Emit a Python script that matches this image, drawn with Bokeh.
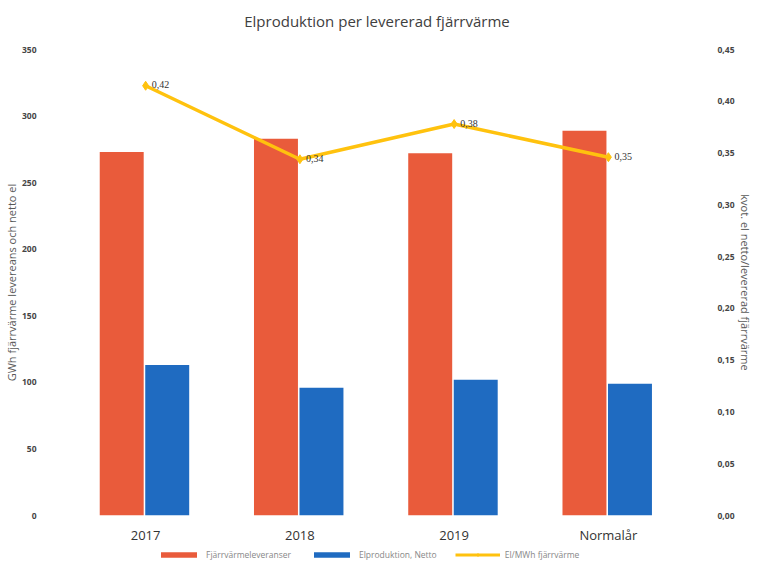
from bokeh.plotting import figure
from bokeh.layouts import column
from bokeh.models import (ColumnDataSource, FactorRange, Range1d, LinearAxis, FixedTicker,
                          CustomJSTickFormatter, Legend, LegendItem)
from bokeh.transform import dodge
from bokeh.core.properties import value
from bokeh.embed import file_html
from bokeh.resources import INLINE

categories = ["2017", "2018", "2019", "Normalår"]
fjarrvarme = [273, 283, 272, 289]
elproduktion = [113, 96, 102, 99]
kvot = [0.415, 0.344, 0.378, 0.346]
kvot_labels = ["0,42", "0,34", "0,38", "0,35"]
left_ticks = [0, 50, 100, 150, 200, 250, 300, 350]
right_ticks = [0.0, 0.05, 0.10, 0.15, 0.20, 0.25, 0.30, 0.35, 0.40, 0.45]
legend_labels = ["Fjärrvärmeleveranser", "Elproduktion, Netto", "El/MWh fjärrvärme"]

ORANGE = "#E95B3B"
BLUE = "#1F6BC1"
YELLOW = "#FFC20E"

src = ColumnDataSource(dict(cat=categories, f=fjarrvarme, e=elproduktion,
                            k=kvot, lab=kvot_labels))

p = figure(width=761, height=546, x_range=FactorRange(factors=categories, range_padding=0),
           y_range=Range1d(0, 350), output_backend="svg", toolbar_location=None,
           min_border_left=57, min_border_right=76, min_border_top=49, min_border_bottom=20,
           title="Elproduktion per levererad fjärrvärme\n ")
p.extra_y_ranges = {"r": Range1d(0, 0.45)}

p.title.align = "center"
p.title.text_font = "Open Sans"
p.title.text_font_size = "15px"
p.title.text_font_style = "normal"
p.title.text_color = "#404040"
p.title.text_line_height = 0.7

p.vbar(x=dodge("cat", -0.155, range=p.x_range), top="f", width=0.285, source=src,
       fill_color=ORANGE, line_color=None)
p.vbar(x=dodge("cat", 0.14, range=p.x_range), top="e", width=0.285, source=src,
       fill_color=BLUE, line_color=None)
p.line(x="cat", y="k", source=src, y_range_name="r", line_color=YELLOW, line_width=3.5)
p.scatter(x="cat", y="k", source=src, y_range_name="r", marker="diamond", size=9,
          fill_color=YELLOW, line_color=YELLOW)
p.text(x="cat", y="k", text="lab", source=src, y_range_name="r", x_offset=6, y_offset=-1,
       text_baseline="middle", text_font=value("Liberation Serif"), text_font_size="10px",
       text_color="#333333")

p.xgrid.visible = False
p.ygrid.visible = False
p.outline_line_color = None

p.yaxis[0].ticker = FixedTicker(ticks=left_ticks)
p.yaxis[0].axis_label = "GWh fjärrvärme levereans och netto el"

ra = LinearAxis(y_range_name="r", ticker=FixedTicker(ticks=right_ticks),
                formatter=CustomJSTickFormatter(code="return tick.toFixed(2).replace('.', ',');"),
                axis_label="kvot. el netto/levererad fjärrvärme")
p.add_layout(ra, "right")

for ax in [p.yaxis[0], ra]:
    ax.axis_line_color = None
    ax.major_tick_line_color = None
    ax.minor_tick_line_color = None
    ax.major_label_text_font = "Open Sans"
    ax.major_label_text_font_style = "bold"
    ax.major_label_text_font_size = "8.5px"
    ax.major_label_text_color = "#454545"
    ax.axis_label_text_font = "Open Sans"
    ax.axis_label_text_font_style = "normal"
    ax.axis_label_text_font_size = "11px"
    ax.axis_label_text_color = "#595959"
    ax.major_label_standoff = 26
    ax.axis_label_standoff = 0

xa = p.xaxis[0]
xa.axis_line_color = None
xa.major_tick_line_color = None
xa.minor_tick_line_color = None
xa.major_label_text_font = "Open Sans"
xa.major_label_text_font_size = "13px"
xa.major_label_text_color = "#333333"
xa.major_label_standoff = 4

# legend strip below the chart: same series drawn outside its visible y range
lf = figure(width=761, height=14, x_range=FactorRange(factors=categories),
            y_range=Range1d(1000, 1001), output_backend="svg", toolbar_location=None,
            min_border=0, x_axis_type=None, y_axis_type=None)
lf.grid.visible = False
lf.outline_line_color = None
g1 = lf.vbar(x="cat", top="f", width=0.3, source=src, fill_color=ORANGE, line_color=None)
g2 = lf.vbar(x="cat", top="e", width=0.3, source=src, fill_color=BLUE, line_color=None)
g3 = lf.line(x="cat", y="k", source=src, line_color=YELLOW, line_width=3)
g4 = lf.scatter(x="cat", y="k", source=src, marker="diamond", size=7,
                fill_color=YELLOW, line_color=YELLOW)
legend = Legend(items=[LegendItem(label=legend_labels[0], renderers=[g1]),
                       LegendItem(label=legend_labels[1], renderers=[g2]),
                       LegendItem(label=legend_labels[2], renderers=[g3, g4])],
                orientation="horizontal", location=(88, 0), border_line_color=None,
                background_fill_alpha=0,
                label_text_font="Open Sans", label_text_font_size="8.5px",
                label_text_color="#888888", glyph_width=45, glyph_height=7,
                label_height=10, spacing=18, padding=2, margin=0)
lf.add_layout(legend, "center")

layout = column(p, lf, spacing=0)
open("out.html", "w").write(file_html(layout, INLINE))
